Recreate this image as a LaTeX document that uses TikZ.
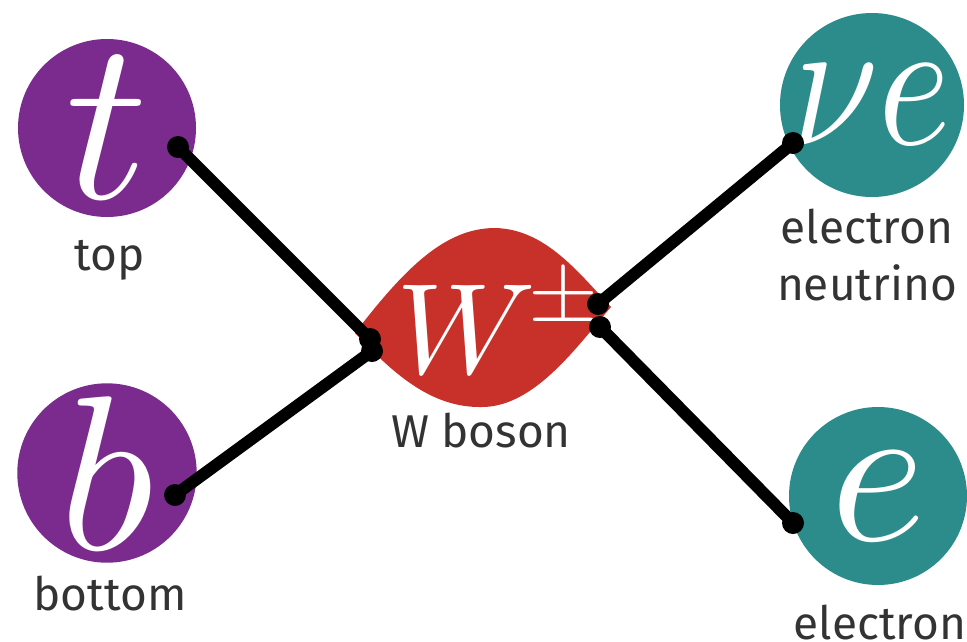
\documentclass[tikz,border=0pt]{standalone}
\usepackage{fontspec}
\usepackage{graphicx}
\newfontfamily\labelfont{Fira Sans}
\definecolor{quarkpurple}{HTML}{7B2B8E}
\definecolor{leptonteal}{HTML}{2C8B8B}
\definecolor{bosonred}{HTML}{C8302A}
\definecolor{labelgray}{HTML}{333333}
\tikzset{
  particle/.style={circle, inner sep=0pt, minimum size=178pt, text=white, draw=none},
  lbl/.style={font=\labelfont\fontsize{46}{50}\selectfont, text=labelgray, anchor=base, inner sep=0pt},
  wire/.style={line width=12pt, line cap=round, line join=round, draw=black},
  blob/.style={fill=black}
}
\begin{document}
\begin{tikzpicture}[x=1pt,y=-1pt]
\useasboundingbox (0,0) rectangle (967,641);
% particles
\node[particle, fill=quarkpurple] (t) at (107,128) {\scalebox{23}{$t$}};
\node[particle, fill=quarkpurple] (b) at (107,473) {\scalebox{22}{$b$}};
\node[particle, fill=leptonteal, minimum size=184pt] (nu) at (872,105) {\scalebox{15.5}[18.5]{$\nu e$}};
\node[particle, fill=leptonteal] (e) at (878,496) {\scalebox{20.5}{$e$}};
% W boson shape
\fill[bosonred] (355,333) .. controls (405,268) and (445,228) .. (495,228)
  .. controls (545,229) and (578,272) .. (611,307)
  .. controls (578,345) and (535,407) .. (482,407)
  .. controls (430,408) and (392,372) .. (355,333) -- cycle;
\node[text=white, inner sep=0pt] (W) at (466,329) {\scalebox{12.9}{$W$}};
\node[text=white, inner sep=0pt] (pm) at (563,300) {\scalebox{9}[8.5]{$\pm$}};
% labels
\node[lbl] (toplbl) at (110,270) {top};
\node[lbl] (botlbl) at (110,610) {bottom};
\node[lbl] (nulbl1) at (867,243) {electron};
\node[lbl] (nulbl2) at (867,300) {neutrino};
\node[lbl] (elbl) at (880,639) {electron};
\node[lbl] (wlbl) at (481,447) {W boson};
% connector end points
\coordinate (tdot) at (178,147);
\coordinate (bdot) at (175,495);
\coordinate (nudot) at (793,143);
\coordinate (edot) at (793,523);
\coordinate (jl1) at (370,339);
\coordinate (jl2) at (372,351);
\coordinate (jr1) at (598,304);
\coordinate (jr2) at (600,327);
% connectors
\draw[wire] (tdot) -- (jl1);
\draw[wire] (bdot) -- (jl2);
\draw[wire] (nudot) -- (jr1);
\draw[wire] (edot) -- (jr2);
\foreach \p in {tdot,bdot,nudot,edot,jl1,jl2,jr1,jr2}
  \fill[blob] (\p) circle (11);
\end{tikzpicture}
\end{document}
